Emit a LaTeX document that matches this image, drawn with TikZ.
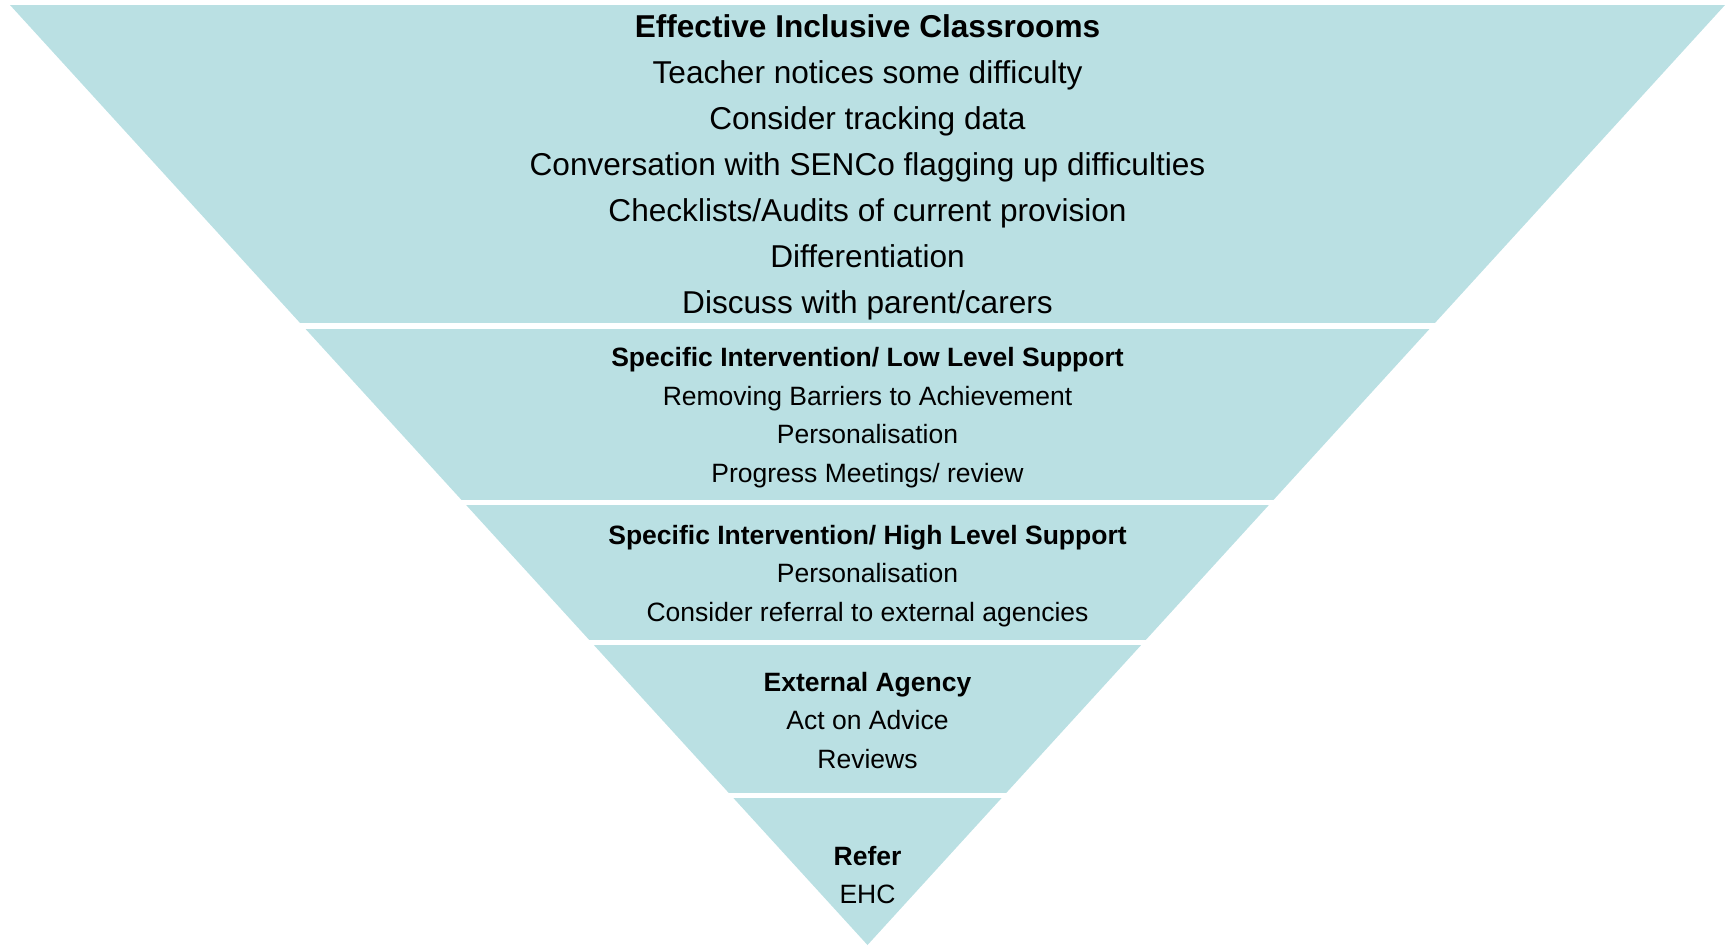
\documentclass[tikz,border=0pt]{standalone}
\usepackage{fontspec}
\setmainfont{Liberation Sans}
\definecolor{funnel}{RGB}{186,224,227}
\tikzset{
  gap/.style={white, line width=5.5pt},
  bigtext/.style={font=\fontsize{31.6}{46}\selectfont, align=center, inner sep=0pt},
  smalltext/.style={font=\fontsize{26.5}{38.6}\selectfont, align=center, inner sep=0pt}
}
\begin{document}
\begin{tikzpicture}[x=1pt,y=-1pt]
  \useasboundingbox (0,0) rectangle (1729,945);

  % funnel and the white gaps between its bands
  \fill[funnel] (10,5) -- (1725,5) -- (867.5,945) -- cycle;
  \foreach \gy/\gw in {326/6, 502.5/5, 642.5/5, 795.5/5}
    \draw[gap, line width=\gw pt] (0,\gy) -- (1729,\gy);

  % band texts
  \node[bigtext] (classroom) at (867.5,167.7) {\textbf{Effective Inclusive Classrooms}\\
    Teacher notices some difficulty\\
    Consider tracking data\\
    Conversation with SENCo flagging up difficulties\\
    Checklists/Audits of current provision\\
    Differentiation\\
    Discuss with parent/carers};
  \node[smalltext] (lowlevel) at (867.5,417.5) {\textbf{Specific Intervention/ Low Level Support}\\
    Removing Barriers to Achievement\\
    Personalisation\\
    Progress Meetings/ review};
  \node[smalltext] (highlevel) at (867.5,576) {\textbf{Specific Intervention/ High Level Support}\\
    Personalisation\\
    Consider referral to external agencies};
  \node[smalltext] (agency) at (867.5,720.5) {\textbf{External Agency}\\
    Act on Advice\\
    Reviews};
  \node[smalltext] (refer) at (867.5,875) {\textbf{Refer}\\
    EHC};
\end{tikzpicture}
\end{document}
